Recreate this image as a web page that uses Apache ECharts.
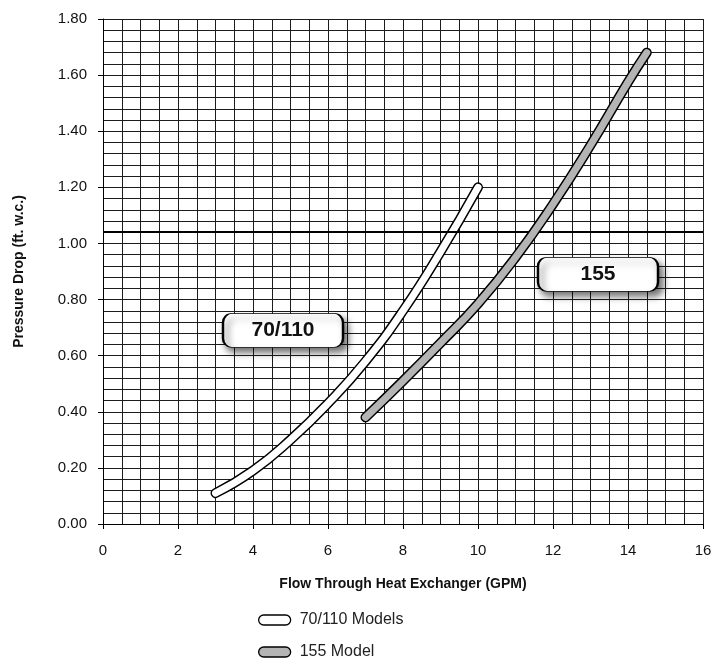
<!DOCTYPE html>
<html>
<head>
<meta charset="utf-8">
<script src="https://cdn.jsdelivr.net/npm/echarts@6/dist/echarts.min.js"></script>
<style>
  html, body { margin: 0; padding: 0; background: #fff; }
  #chart { width: 718px; height: 658px; }
</style>
</head>
<body>
<div id="chart"></div>
<script>
// pressure drop curves
const flowSmall = [3, 4, 5, 6, 7, 8, 9, 10];
const dropSmall = [0.11, 0.19, 0.30, 0.43, 0.58, 0.76, 0.97, 1.20];
const flowLarge = [7, 8, 9, 10, 11, 12, 13, 14, 14.5];
const dropLarge = [0.38, 0.51, 0.645, 0.785, 0.95, 1.14, 1.35, 1.575, 1.68];

const seriesNames = ["70/110 Models", "155 Model"];
const tagText = ["70/110", "155"];
const tagX = [4.8, 13.2];
const tagY = [0.69, 0.89];
const refLineY = 1.04;

const font = "'Liberation Sans', Arial, Helvetica, sans-serif";
const capsule = "path://M5,0 H27 A5,5 0 0 1 27,10 H5 A5,5 0 0 1 5,0 Z";
const tagBox = "path://M9,0 H111 A9,9 0 0 1 120,9 V25 A9,9 0 0 1 111,34 H9 A9,9 0 0 1 0,25 V9 A9,9 0 0 1 9,0 Z";

const pairs = (xs, ys) => xs.map((x, i) => [x, ys[i]]);

const outline = (name, data) => ({
  name, type: "line", data, smooth: 0.5, symbol: "none", silent: true, z: 3,
  lineStyle: { color: "#000", width: 10, cap: "round" },
});
const fill = (name, data, color, z) => ({
  name, type: "line", data, smooth: 0.5, symbol: "none", silent: true, z,
  itemStyle: { color },
  lineStyle: { color, width: 7, cap: "round" },
});

const chart = echarts.init(document.getElementById("chart"), null, { renderer: "canvas" });
const gridColor = "#1c1c1c";

chart.setOption({
  animation: false,
  backgroundColor: "#fff",
  textStyle: { fontFamily: font },
  grid: { left: 103, right: 15, top: 19, bottom: 134, outerBoundsMode: "none", containLabel: false },
  xAxis: {
    type: "value", min: 0, max: 16, interval: 2,
    name: "Flow Through Heat Exchanger (GPM)", nameLocation: "middle", nameGap: 53,
    nameTextStyle: { fontFamily: font, fontWeight: "bold", fontSize: 14, color: "#111" },
    axisLine: { lineStyle: { color: "#000", width: 1 } },
    axisTick: { show: true, length: 5, lineStyle: { color: "#000" } },
    axisLabel: { fontFamily: font, fontSize: 15, color: "#111", margin: 19 },
    splitLine: { show: true, lineStyle: { color: gridColor, width: 1 } },
    minorTick: { show: false, splitNumber: 4 },
    minorSplitLine: { show: true, lineStyle: { color: gridColor, width: 1 } },
  },
  yAxis: {
    type: "value", min: 0, max: 1.8, interval: 0.2,
    name: "Pressure Drop (ft. w.c.)", nameLocation: "middle", nameGap: 77, nameRotate: 90,
    nameTextStyle: { fontFamily: font, fontWeight: "bold", fontSize: 14, color: "#111" },
    axisLine: { show: true, lineStyle: { color: "#000", width: 1 } },
    axisTick: { show: true, length: 5, lineStyle: { color: "#000" } },
    axisLabel: { fontFamily: font, fontSize: 15, color: "#111", margin: 16,
      formatter: (v) => v.toFixed(2) },
    splitLine: { show: true, lineStyle: { color: gridColor, width: 1 } },
    minorTick: { show: false, splitNumber: 5 },
    minorSplitLine: { show: true, lineStyle: { color: gridColor, width: 1 } },
  },
  legend: {
    orient: "vertical", left: 258, top: 612, width: 200, height: 80, padding: 0, itemGap: 16,
    itemWidth: 32, itemHeight: 10, icon: capsule,
    textStyle: { fontFamily: font, fontSize: 16, color: "#222", padding: [0, 0, 0, 4] },
    data: [
      { name: seriesNames[0], itemStyle: { color: "#fff", borderColor: "#000", borderWidth: 1.3 } },
      { name: seriesNames[1], itemStyle: { color: "#b4b4b4", borderColor: "#000", borderWidth: 1.3 } },
    ],
  },
  series: [
    outline("outline-small", pairs(flowSmall, dropSmall)),
    outline("outline-large", pairs(flowLarge, dropLarge)),
    Object.assign(fill(seriesNames[0], pairs(flowSmall, dropSmall), "#fff", 4), {
      markLine: {
        silent: true, symbol: "none", label: { show: false },
        lineStyle: { color: "#000", width: 2, type: "solid" },
        data: [{ yAxis: refLineY }],
      },
    }),
    Object.assign(fill(seriesNames[1], pairs(flowLarge, dropLarge), "#b4b4b4", 5), {
      markPoint: {
        silent: true, symbol: tagBox, symbolSize: [120, 34], symbolKeepAspect: false,
        itemStyle: { color: "#fff", borderColor: "#000", borderWidth: 1.3,
          shadowColor: "rgba(0,0,0,0.55)", shadowBlur: 7, shadowOffsetX: 4, shadowOffsetY: 5 },
        label: { show: true, position: "inside", fontFamily: font, fontWeight: "bold",
          fontSize: 21, color: "#111", formatter: (p) => p.name },
        data: tagText.map((t, i) => ({ name: t, coord: [tagX[i], tagY[i]] })),
      },
    }),
  ],
});
</script>
</body>
</html>
